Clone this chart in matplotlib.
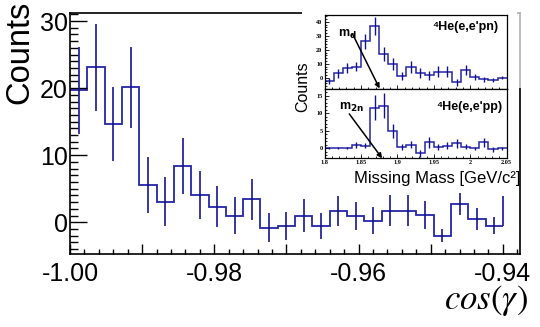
import matplotlib
matplotlib.use("Agg")
import matplotlib.pyplot as plt
import numpy as np
from matplotlib.patches import Rectangle
from matplotlib.ticker import MultipleLocator, FuncFormatter

plt.rcParams['font.family'] = ['Liberation Sans', 'DejaVu Sans']
plt.rcParams['axes.unicode_minus'] = False

# cos(gamma) distribution: 25 bins between -1.00 and -0.94
cos_lo, cos_hi, n_cos = -1.00, -0.94, 25
counts = [19.7, 23.1, 14.7, 20.1, 5.6, 3.1, 8.4, 4.1, 2.35, 1.0, 3.45, -0.8, -0.55,
          1.0, -0.55, 1.7, 1.0, 0.25, 1.75, 1.75, 1.1, -2.0, 2.75, 0.5, -0.5]
count_errs = [6.5, 6.5, 5.5, 6.0, 4.2, 3.6, 4.2, 3.6, 3.1, 2.8, 3.05, 2.2, 2.1,
              2.4, 2.0, 2.25, 2.1, 2.05, 2.35, 2.3, 2.1, 1.0, 1.6, 1.7, 1.3]
tail_level = 3.85  # outline climbs back up at the last edge

# missing mass spectra: 20 bins between 1.80 and 2.05 GeV/c^2
mm_lo, mm_hi, n_mm = 1.80, 2.05, 20
pn_counts = [-2.5, 3.1, 7.2, 8.0, 26.0, 36.9, 16.9, 9.6, 1.2, 7.5,
             3.6, 1.9, 4.3, 4.3, -3.4, 5.5, 0.7, -1.0, -1.7, 0.0]
pn_errs = [2.0, 3.0, 3.5, 3.5, 5.3, 6.2, 4.8, 4.2, 3.0, 4.2,
           3.5, 3.2, 3.8, 3.8, 2.5, 3.6, 2.2, 1.8, 1.2, 1.2]
pp_counts = [0.0, 0.0, 0.0, 0.95, 0.75, 11.6, 12.2, 4.8, 0.3, 1.0,
             -1.4, 1.7, 0.3, 0.7, 1.4, 0.5, 0.0, 1.7, -0.3, 0.0]
pp_errs = [0.3, 0.3, 0.3, 0.8, 0.7, 3.5, 3.6, 2.0, 0.8, 1.0,
           1.0, 1.5, 0.8, 1.0, 1.2, 0.8, 0.5, 1.2, 0.7, 0.4]
m_d, m_2n = 1.8756, 1.8791

hist_col = '#2424a8'
err_col = '#101090'

W, H = 540, 327
fig = plt.figure(figsize=(W / 100, H / 100), dpi=100)


def box(l, t, r, b):
    # pixel box -> figure fraction
    return [l / W, 1 - b / H, (r - l) / W, (b - t) / H]


def draw_hist(a, lo, hi, n, vals, errs, lw):
    edges = np.linspace(lo, hi, n + 1)
    centers = 0.5 * (edges[:-1] + edges[1:])
    a.stairs(vals, edges, color=hist_col, lw=lw, baseline=None)
    a.errorbar(centers, vals, yerr=errs, fmt='none', ecolor=err_col,
               elinewidth=lw * 0.9, capsize=0)
    return edges


# ---- main plot ----
ax = fig.add_axes(box(70, 13.3, 519.5, 253.5))
edges = draw_hist(ax, cos_lo, cos_hi, n_cos, counts, count_errs, 1.3)
ax.vlines(edges[-1], counts[-1], tail_level, color=hist_col, lw=1.3)
ax.set_xlim(-1.0, -0.9377)
ax.set_ylim(-4.65, 31.15)

ax.xaxis.set_major_locator(MultipleLocator(0.01))
ax.xaxis.set_minor_locator(MultipleLocator(0.002))
ax.xaxis.set_major_formatter(
    FuncFormatter(lambda v, p: f"{v:.2f}" if round(v * 100) % 2 == 0 else ""))
ax.yaxis.set_major_locator(MultipleLocator(10))
ax.yaxis.set_minor_locator(MultipleLocator(1))
ax.tick_params(which='both', direction='in', top=False, right=False, width=1)
ax.tick_params(axis='x', which='major', length=7, labelsize=18, pad=6)
ax.tick_params(axis='x', which='minor', length=3.5)
ax.tick_params(axis='y', which='major', length=12, labelsize=18, pad=1.5)
ax.tick_params(axis='y', which='minor', length=6)
for s in ax.spines.values():
    s.set_linewidth(1.2)

fig.text(20 / W, 1 - 0.5 / H, 'Counts', rotation=90, ha='center', va='top',
         fontsize=23.5)
fig.text(528 / W, 1 - 301 / H, r'$cos(\gamma)$', ha='right', va='center',
         fontsize=25, math_fontfamily='stix')

# white backing for the missing-mass panels
fig.add_artist(Rectangle((302 / W, 1 - 190 / H), (517 - 302) / W, 190 / H,
                         transform=fig.transFigure, facecolor='white',
                         edgecolor='none', zorder=1))
fig.add_artist(Rectangle((517 / W, 1 - 88 / H), 6 / W, 88 / H,
                         transform=fig.transFigure, facecolor='white',
                         alpha=0.7, edgecolor='none', zorder=1))

# ---- missing mass panels ----
axu = fig.add_axes(box(324.5, 15, 506.7, 88.5))
axl = fig.add_axes(box(324.5, 88.5, 506.7, 158.3))
panels = [(axu, pn_counts, pn_errs, (-7.7, 44.8), 10, 2),
          (axl, pp_counts, pp_errs, (-2.85, 17.05), 5, 1)]
for a, vals, errs, ylim, ymaj, ymin in panels:
    a.set_zorder(2)
    draw_hist(a, mm_lo, mm_hi, n_mm, vals, errs, 1.1)
    a.set_xlim(mm_lo, mm_hi)
    a.set_ylim(*ylim)
    a.xaxis.set_major_locator(MultipleLocator(0.05))
    a.xaxis.set_minor_locator(MultipleLocator(0.01))
    a.xaxis.set_major_formatter(FuncFormatter(lambda v, p: f"{v:g}"))
    a.yaxis.set_major_locator(MultipleLocator(ymaj))
    a.yaxis.set_minor_locator(MultipleLocator(ymin))
    a.tick_params(which='both', direction='in', top=False, right=False,
                  width=0.6, labelsize=4.5, pad=1.5)
    a.tick_params(which='major', length=3)
    a.tick_params(which='minor', length=1.5)
    for lab in a.get_xticklabels() + a.get_yticklabels():
        lab.set_family('Liberation Serif')
        lab.set_fontweight('bold')
    for s in a.spines.values():
        s.set_linewidth(0.9)
axu.tick_params(axis='x', labelbottom=False)

arrow = dict(arrowstyle='-|>', color='black', lw=1.1, mutation_scale=7,
             shrinkA=0, shrinkB=0)
axu.annotate('', xy=(m_d, -7.7), xytext=(1.8387, 31), arrowprops=arrow,
             annotation_clip=False)
axl.annotate('', xy=(m_2n, -2.85), xytext=(1.834, 9.8), arrowprops=arrow,
             annotation_clip=False)
axu.text(1.8185, 29.3, r'm$_\mathbf{d}$', fontsize=9, fontweight='bold',
         va='baseline')
axl.text(1.8199, 10.9, r'm$_\mathbf{2n}$', fontsize=9, fontweight='bold',
         va='baseline')
axu.text(2.038, 35.9, "⁴He(e,e'pn)", ha='right', va='center', fontsize=9,
         fontweight='bold')
axl.text(2.0436, 11.8, "⁴He(e,e'pp)", ha='right', va='center', fontsize=9,
         fontweight='bold')

fig.text(303 / W, 1 - 87 / H, 'Counts', rotation=90, ha='center', va='center',
         fontsize=11.5, zorder=3)
fig.text(520 / W, 1 - 178 / H, 'Missing Mass [GeV/c²]', ha='right',
         va='center', fontsize=12, zorder=3)

fig.savefig('out.png', dpi=100)
